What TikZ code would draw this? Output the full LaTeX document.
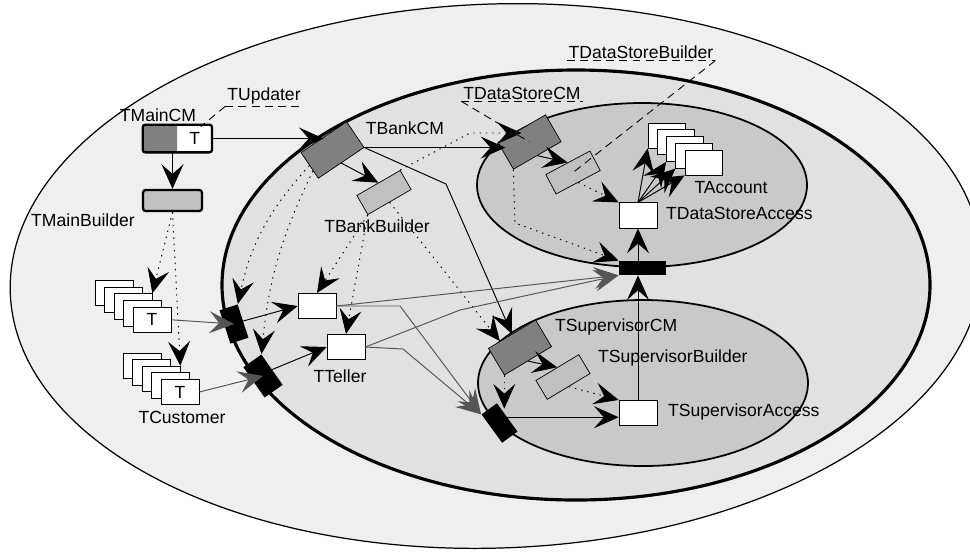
\documentclass[tikz,border=0pt]{standalone}
\usepackage{fontspec}
\setmainfont{Liberation Sans}
\usetikzlibrary{arrows.meta,calc,positioning}
\definecolor{outerbg}{RGB}{239,239,239}
\definecolor{midbg}{RGB}{225,225,225}
\definecolor{innerbg}{RGB}{201,201,201}
\definecolor{cmgray}{RGB}{128,128,128}
\definecolor{bldgray}{RGB}{192,192,192}
\definecolor{flowgray}{RGB}{85,85,85}

\tikzset{
  cmbox/.style={draw, fill=cmgray, minimum width=1.1cm, minimum height=0.62cm, inner sep=0pt},
  bldbox/.style={draw, fill=bldgray, minimum width=1cm, minimum height=0.44cm, inner sep=0pt},
  whitebox/.style={draw, fill=white, minimum width=0.76cm, minimum height=0.51cm, inner sep=0pt},
  portbar/.style={fill=black, minimum width=0.38cm, minimum height=0.7cm, inner sep=0pt},
  lbl/.style={inner sep=1pt, font=\normalsize},
  conn/.style={-{Stealth[length=14pt,width=12.5pt,inset=5.5pt]}, line width=0.55pt},
  dots/.style={dash pattern=on 0.8pt off 2.8pt, line width=0.8pt},
  leader/.style={dash pattern=on 4.5pt off 3pt, line width=0.5pt},
  flow/.style={draw=flowgray, -{Stealth[length=14pt,width=12.5pt,inset=5.5pt]}, line width=0.55pt},
}

\begin{document}
\begin{tikzpicture}[x=0.02cm, y=-0.02cm]
\path[use as bounding box, clip] (0,0) rectangle (970,556);

% the nested regions
\draw[fill=outerbg, line width=0.7pt, rotate around={2:(496,276)}] (496,276) ellipse [x radius=486, y radius=272];
\draw[fill=midbg, line width=1.8pt] (576,285) ellipse [x radius=354, y radius=215];
\draw[fill=innerbg, line width=1pt] (642,185) ellipse [x radius=165, y radius=82];
\draw[fill=innerbg, line width=1pt] (643,383) ellipse [x radius=165, y radius=83];

%% main level
\node[fill=cmgray, minimum width=0.68cm, minimum height=0.54cm, inner sep=0pt] (maincm) at (160,138.5) {};
\node[fill=white, minimum width=0.68cm, minimum height=0.54cm, inner sep=0pt, right=0pt of maincm] (mainT) {T};
\draw[line width=1.3pt, rounded corners=1.5pt] (maincm.north west) rectangle (mainT.south east);
\node[draw, fill=bldgray, line width=1.3pt, rounded corners=1.5pt, minimum width=1.18cm, minimum height=0.42cm] (mainbld) at (172.5,200.5) {};

% customers
\foreach \i in {0,...,3} {
  \node[whitebox] (cusa\i) at ({114+9.5*\i},{293+6.7*\i}) {};
  \node[whitebox] (cusb\i) at ({142+9.5*\i},{366+6.5*\i}) {};
}
\node[whitebox] (cusa4) at (152,319.8) {T};
\node[whitebox] (cusb4) at (180,392) {T};

%% bank level
\node[cmbox, rotate=34] (bankcm) at (332.5,150) {};
\node[bldbox, rotate=30] (bankbld) at (384,192.5) {};
\node[portbar, rotate=18] (tbar1) at (234,324) {};
\node[portbar, rotate=35, minimum width=0.44cm, minimum height=0.74cm] (tbar2) at (263,376) {};
\node[whitebox] (teller1) at (317,306) {};
\node[whitebox] (teller2) at (346,347) {};

%% data store
\node[cmbox, rotate=30] (dscm) at (529.5,142) {};
\node[bldbox, rotate=28] (dsbld) at (573,172.5) {};
\node[whitebox] (dsacc) at (638,215.5) {};
\node[portbar, minimum width=0.94cm, minimum height=0.28cm] (dsbar) at (642.5,268) {};
\foreach \i in {0,...,4}
  \node[whitebox, minimum width=0.74cm, minimum height=0.5cm] (acc\i) at ({666.5+9.25*\i},{135.5+6.75*\i}) {};

%% supervisor
\node[cmbox, rotate=31] (supcm) at (520,347.5) {};
\node[bldbox, rotate=31] (supbld) at (563,377) {};
\node[whitebox] (supacc) at (638,413) {};
\node[portbar, rotate=36] (supbar) at (499.5,423) {};

% labels
\node[lbl] (lmaincm) at (158,115) {TMainCM};
\node[lbl] (lupd) at (264,96) {TUpdater};
\node[lbl] (lmainbld) at (83,220) {TMainBuilder};
\node[lbl] (lbankcm) at (405,128) {TBankCM};
\node[lbl] (lbankbld) at (377,226) {TBankBuilder};
\node[lbl] (ldscm) at (522,93) {TDataStoreCM};
\node[lbl] (ldsbld) at (641,52) {TDataStoreBuilder};
\node[lbl] (lacc) at (731,188) {TAccount};
\node[lbl, anchor=west] (ldsacc) at (664,213) {TDataStoreAccess};
\node[lbl, anchor=west] (lsupcm) at (553,327) {TSupervisorCM};
\node[lbl, anchor=west] (lsupbld) at (596,358) {TSupervisorBuilder};
\node[lbl, anchor=west] (lsupacc) at (666,412) {TSupervisorAccess};
\node[lbl] (lteller) at (340,376) {TTeller};
\node[lbl] (lcust) at (182,417) {TCustomer};

% dashed notes
\draw[leader] (lupd.south west) -- (lupd.south east);
\draw[leader] (lupd.south west) -- ($(mainT.north)+(6,2)$);
\draw[leader] (ldscm.south west) -- (ldscm.south east);
\draw[leader] (ldscm.south west) -- (dscm.center);
\draw[leader] (ldsbld.south west) -- (ldsbld.south east);
\draw[leader] (ldsbld.south east) -- (dsbld.center);

% knees of the bent connectors
\coordinate (kneeS) at (446,184);
\coordinate (kneeD) at (470,133);
\coordinate (kneeB) at (515,223);
\coordinate (kneeT1) at (400,306);
\coordinate (kneeT2) at (403,349);
\coordinate (kneeT3) at (460,310);

%% solid connectors
\draw[conn] (mainT.east) -- (mainT.east -| bankcm.north);
\draw[conn] (mainbld.north |- maincm.south) -- (mainbld.north);
\draw[conn] (bankcm.south) -- (bankbld.north);
\draw[conn] (bankcm.south east) -- (bankcm.south east -| dscm.west);
\draw[conn] (bankcm.south east) -- (kneeS) -- (supcm.north);
\draw[conn] (dscm.south) -- (dsbld.north);
\draw[conn] (supcm.south) -- (supbld.north);
\draw[conn] (supbar.east) -- (supbar.east -| supacc.west);
\draw[conn] (dsacc.south |- dsbar.north) -- (dsacc.south);
\draw[conn] (supacc.north) -- (supacc.north |- dsbar.south);
\foreach \i in {0,2,3,4}
  \draw[conn] (dsacc.north) -- (acc\i.south west);
\draw[conn] (tbar1.east) -- (teller1.west);
\draw[conn] (tbar2.east) -- (teller2.west);

%% dotted connectors
\draw[dots, conn] (mainbld.south) -- (cusa2.north east);
\draw[dots, conn] (mainbld.south) -- (cusb2.north east);
\draw[dots, conn] (bankcm.west) to[bend right=15] (tbar1.north east);
\draw[dots, conn] ($(bankcm.west)!0.4!(bankcm.south west)$) to[bend right=10] (tbar2.north east);
\draw[dots, conn] (bankbld.south west) -- (teller1.north);
\draw[dots, conn] (bankbld.south west) -- (teller2.north);
\draw[dots, conn] (bankbld.south) -- ($(supcm.north west)!0.5!(supcm.north)$);
\draw[dots, conn] (bankbld.north east) -- (kneeD) -- (kneeD -| dscm.north);
\draw[dots, conn] (dsbld.south) -- (dsacc.north west);
\draw[dots, conn] (dscm.south west) -- (kneeB) -- (dsbar.north west);
\draw[dots, conn] (supbld.south) -- (supacc.north west);
\draw[dots, conn] (supcm.south west) -- (supcm.south west |- supbar.north);

%% gray flows
\draw[flow] (cusa4.east) -- (tbar1.center);
\draw[flow] (cusb4.east) -- (tbar2.center);
\draw[flow] (teller1.east) -- (dsbar.south west);
\draw[flow] (teller1.east) -- (kneeT1) -- (supbar.north west);
\draw[flow] (teller2.east) -- (kneeT3) -- (dsbar.south west);
\draw[flow] (teller2.east) -- (kneeT2) -- (supbar.north west);

\end{tikzpicture}
\end{document}
